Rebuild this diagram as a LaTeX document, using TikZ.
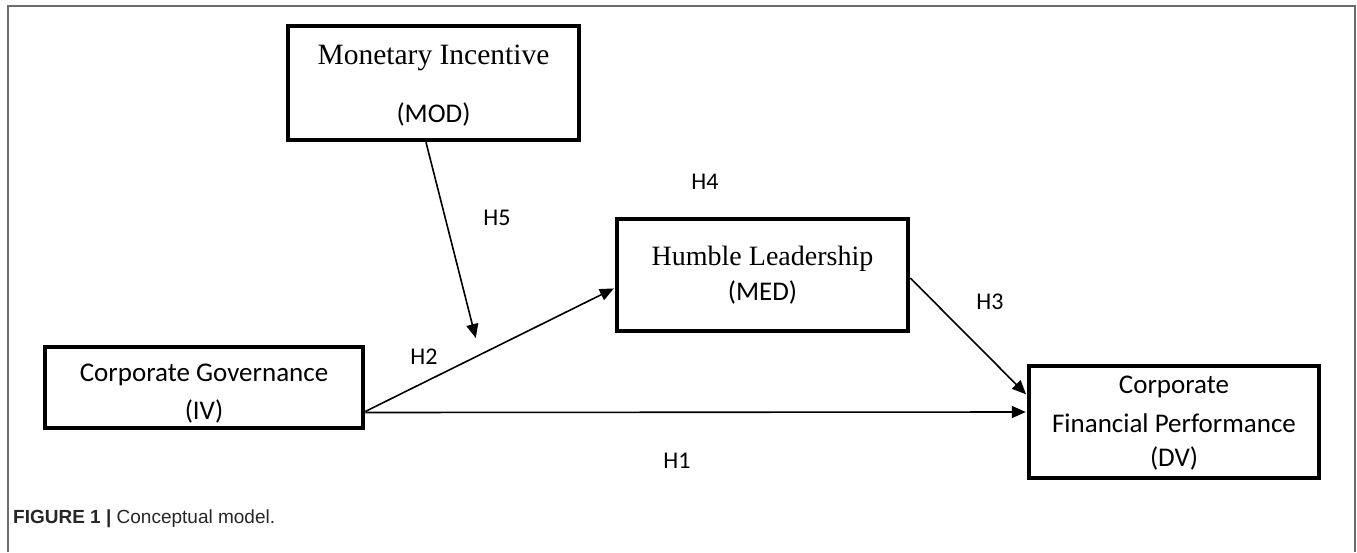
\documentclass[tikz,border=0pt]{standalone}
\usepackage{fontspec}
\setmainfont{Liberation Serif}
\newfontfamily\carl{Carlito}
\newfontfamily\capfont{Liberation Sans}
\usetikzlibrary{arrows.meta}
\begin{document}
\begin{tikzpicture}[x=1pt,y=-1pt,
  box/.style={draw=black, line width=4.5pt, rectangle, inner sep=0pt},
  serift/.style={font=\fontsize{29.5}{33}\selectfont, inner sep=0pt},
  sanst/.style={font=\carl\fontsize{27}{30}\selectfont, inner sep=0pt},
  hlabel/.style={font=\carl\fontsize{24}{27}\selectfont, inner sep=0pt},
  link/.style={line width=1.6pt, -{Triangle[length=14pt,width=12pt]}, shorten >=1pt},
  framestyle/.style={draw=gray!85!black, line width=1.5pt}]
\useasboundingbox (0,0) rectangle (1357,552);
% outer frame
\coordinate (fbl) at (8,552);
\coordinate (ftl) at (8,6);
\coordinate (ftr) at (1355,6);
\coordinate (fbr) at (1355,552);
\draw[framestyle] (fbl) -- (ftl) -- (ftr) -- (fbr);

% boxes
\node[box, minimum width=291pt, minimum height=114pt] (mod) at (433.5,83) {};
\node[box, minimum width=291pt, minimum height=112pt] (med) at (762.5,275) {};
\node[box, minimum width=318pt, minimum height=81pt] (iv) at (204,387.5) {};
\node[box, minimum width=290pt, minimum height=112pt] (dv) at (1174,422) {};

% box texts
\node[serift] (modt1) at (433.5,58) {Monetary Incentive};
\node[sanst] (modt2) at (433.5,114) {(MOD)};
\node[serift, font=\fontsize{28}{32}\selectfont] (medt1) at (762.5,259) {Humble Leadership};
\node[sanst] (medt2) at (762.5,292) {(MED)};
\node[sanst] (ivt1) at (204,375) {Corporate Governance};
\node[sanst] (ivt2) at (204,411) {(IV)};
\node[sanst] (dvt1) at (1174,387) {Corporate};
\node[sanst] (dvt2) at (1174,423) {Financial Performance};
\node[sanst] (dvt3) at (1174,458) {(DV)};

% connectors
\coordinate (h5end) at (476,339);
\draw[link] ([xshift=-7.5pt]mod.south) -- (h5end);
\draw[link] ([yshift=-24pt]iv.east) -- ([yshift=-13pt]med.west);
\draw[link] ([yshift=-25pt]iv.east) -- ([yshift=10pt]dv.west);
\draw[link] ([yshift=-3pt]med.east) -- ([yshift=27pt]dv.west);

% hypothesis labels
\node[hlabel] (h4) at (705,182) {H4};
\node[hlabel] (h5) at (497,218) {H5};
\node[hlabel] (h3) at (990,302) {H3};
\node[hlabel] (h2) at (424,357) {H2};
\node[hlabel] (h1) at (677,461) {H1};

% caption
\node[anchor=west, inner sep=0pt, text=black!85, font=\capfont\fontsize{19}{22}\selectfont] (cap) at (13,519) {\textbf{FIGURE 1 |} Conceptual model.};
\end{tikzpicture}
\end{document}
